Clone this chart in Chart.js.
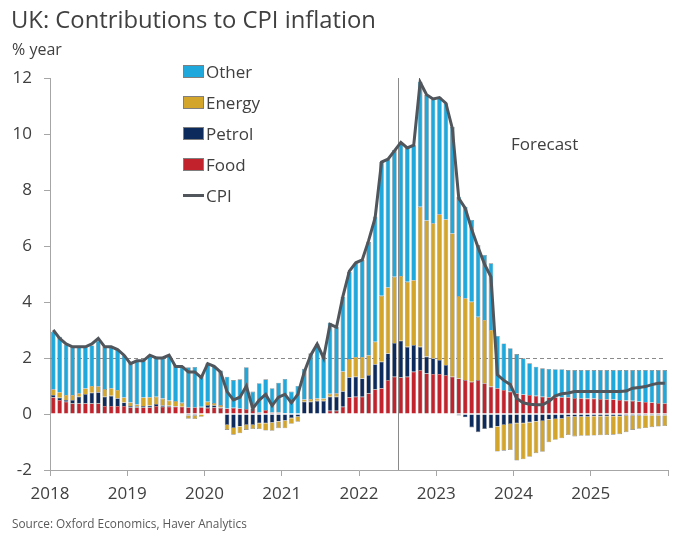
<!DOCTYPE html>
<html lang="en">
<head>
<meta charset="UTF-8">
<title>UK: Contributions to CPI inflation</title>
<script src="https://cdn.jsdelivr.net/npm/chart.js"></script>
<style>
  body { margin: 0; background: #fff; font-family: "Open Sans", sans-serif; color: #404040; }
  #wrap { position: relative; width: 680px; height: 543px; overflow: hidden; }
  #cpiChart { position: absolute; left: 0; top: 0; }
  #title { position: absolute; left: 11px; top: 3px; font-size: 23.8px; white-space: nowrap; }
  #unit { position: absolute; left: 12px; top: 38px; font-size: 16px; }
  #source { position: absolute; left: 12px; top: 515px; font-size: 11.8px; color: #595959; }
  #forecast { position: absolute; left: 511px; top: 132px; font-size: 17px; }
  #legend { position: absolute; left: 183px; top: 56px; font-size: 17px; }
  .item { display: flex; align-items: center; height: 31px; }
  .swatch { width: 21px; height: 13px; margin-right: 2px; box-sizing: border-box; border: 1px solid #7f7f7f; }
  .stroke { width: 21px; height: 3px; margin-right: 2px; }
</style>
</head>
<body>
<div id="wrap">
  <canvas id="cpiChart" width="680" height="543"></canvas>
  <div id="title">UK: Contributions to CPI inflation</div>
  <div id="unit">% year</div>
  <div id="legend"></div>
  <div id="forecast">Forecast</div>
  <div id="source">Source: Oxford Economics, Haver Analytics</div>
</div>
<script>
// monthly, Jan 2018 - Dec 2025, percentage-point contributions
const years = ['2018', '2019', '2020', '2021', '2022', '2023', '2024', '2025'];

const food = [
  0.60, 0.50, 0.44, 0.38, 0.38, 0.38, 0.38, 0.38, 0.29, 0.29, 0.29, 0.29,
  0.24, 0.24, 0.24, 0.24, 0.29, 0.26, 0.26, 0.26, 0.26, 0.24, 0.24, 0.24,
  0.22, 0.24, 0.22, 0.20, 0.22, 0.20, 0.18, 0.20, 0.05, 0.14, 0.05, 0.05,
  0.03, 0.02, 0.02, 0.02, 0.02, 0.02, 0.02, 0.12, 0.12, 0.26, 0.60, 0.62,
  0.62, 0.74, 0.88, 0.92, 1.21, 1.33, 1.31, 1.33, 1.51, 1.57, 1.45, 1.43,
  1.43, 1.39, 1.33, 1.27, 1.21, 1.15, 1.21, 1.10, 0.98, 0.92, 0.86, 0.80,
  0.74, 0.70, 0.68, 0.65, 0.62, 0.60, 0.60, 0.60, 0.60, 0.57, 0.56, 0.55,
  0.55, 0.54, 0.53, 0.52, 0.50, 0.48, 0.47, 0.45, 0.43, 0.41, 0.39, 0.38
];
const petrol = [
  0.08, 0.08, 0.06, 0.12, 0.24, 0.33, 0.38, 0.40, 0.33, 0.36, 0.27, 0.12,
  0.05, 0.04, 0.05, 0.06, 0.07, 0.05, 0.04, 0.02, 0.00, -0.05, -0.06, 0.02,
  0.10, 0.07, 0.02, -0.39, -0.50, -0.45, -0.39, -0.39, -0.33, -0.33, -0.31, -0.27,
  -0.24, -0.15, -0.10, 0.42, 0.42, 0.45, 0.45, 0.50, 0.50, 0.55, 0.71, 0.71,
  0.65, 0.65, 0.90, 0.95, 0.95, 1.21, 1.31, 1.07, 0.95, 0.83, 0.60, 0.56,
  0.50, 0.36, 0.00, -0.05, -0.12, -0.48, -0.65, -0.54, -0.51, -0.45, -0.39, -0.36,
  -0.33, -0.33, -0.30, -0.27, -0.25, -0.20, -0.18, -0.17, -0.10, -0.10, -0.10, -0.10,
  -0.08, -0.08, -0.08, -0.08, -0.08, -0.06, -0.06, -0.06, -0.05, -0.05, -0.05, -0.05
];
const energy = [
  0.20, 0.20, 0.18, 0.18, 0.12, 0.20, 0.24, 0.21, 0.27, 0.27, 0.30, 0.18,
  0.12, 0.06, 0.30, 0.30, 0.26, 0.24, 0.18, 0.18, 0.14, -0.12, -0.12, -0.10,
  0.12, 0.08, 0.08, -0.18, -0.24, -0.24, -0.18, -0.15, -0.21, -0.26, -0.29, -0.24,
  -0.27, -0.20, -0.18, 0.08, 0.10, 0.08, 0.08, 0.10, 0.12, 0.71, 0.65, 0.71,
  0.77, 0.71, 0.80, 2.35, 2.36, 2.36, 2.31, 2.32, 2.32, 5.00, 4.86, 4.82,
  5.20, 5.20, 5.12, 2.94, 2.92, 2.86, 2.26, 2.26, 2.02, -0.89, -0.92, -0.93,
  -1.33, -1.29, -1.23, -1.13, -1.10, -0.81, -0.74, -0.70, -0.65, -0.70, -0.68, -0.68,
  -0.69, -0.68, -0.67, -0.66, -0.64, -0.59, -0.51, -0.47, -0.45, -0.42, -0.40, -0.38
];
const other = [
  2.06, 1.98, 1.80, 1.72, 1.64, 1.49, 1.45, 1.63, 1.53, 1.48, 1.44, 1.51,
  1.44, 1.56, 1.31, 1.50, 1.43, 1.45, 1.59, 1.29, 1.31, 1.43, 1.44, 1.14,
  1.37, 1.31, 1.23, 1.13, 0.99, 1.04, 1.49, 0.60, 1.05, 1.10, 0.87, 1.07,
  1.22, 0.78, 0.98, 1.10, 1.63, 1.95, 1.50, 2.54, 2.38, 2.67, 3.12, 3.34,
  3.46, 4.05, 4.47, 4.78, 4.58, 4.53, 4.76, 4.80, 4.82, 4.47, 4.48, 4.43,
  4.18, 4.15, 3.81, 3.55, 3.27, 2.92, 2.57, 2.32, 2.38, 1.87, 1.66, 1.55,
  1.40, 1.29, 1.13, 1.04, 1.01, 1.01, 1.00, 1.00, 0.97, 1.00, 1.01, 1.02,
  1.02, 1.03, 1.04, 1.05, 1.07, 1.09, 1.10, 1.12, 1.14, 1.16, 1.18, 1.19
];
const cpi = [
  3.0, 2.7, 2.5, 2.4, 2.4, 2.4, 2.5, 2.7, 2.4, 2.4, 2.3, 2.1,
  1.8, 1.9, 1.9, 2.1, 2.0, 2.0, 2.1, 1.7, 1.7, 1.5, 1.5, 1.3,
  1.8, 1.7, 1.5, 0.8, 0.5, 0.6, 1.0, 0.2, 0.5, 0.7, 0.3, 0.6,
  0.7, 0.4, 0.7, 1.5, 2.1, 2.5, 2.0, 3.2, 3.1, 4.2, 5.1, 5.4,
  5.5, 6.2, 7.0, 9.0, 9.1, 9.4, 9.7, 9.5, 9.6, 11.85, 11.4, 11.25,
  11.3, 11.1, 10.2, 7.7, 7.35, 6.6, 5.95, 5.35, 4.9, 1.4, 1.2, 1.05,
  0.55, 0.4, 0.35, 0.33, 0.33, 0.45, 0.65, 0.72, 0.75, 0.8, 0.8, 0.8,
  0.8, 0.8, 0.8, 0.8, 0.8, 0.82, 0.92, 0.95, 0.98, 1.05, 1.1, 1.1
];

const target = 2;          // dashed reference line
const forecastStart = 54;  // months after Jan 2018 (Jul 2022)

const colors = {
  Food: '#c1222b',
  Petrol: '#0c2a5b',
  Energy: '#d3a52b',
  Other: '#1ea8dc',
  CPI: '#50565c'
};

// month index -> point centred in its month on the linear axis
const pts = arr => arr.map((v, i) => ({ x: i + 0.5, y: v }));

const refLines = {
  id: 'refLines',
  beforeDatasetsDraw(chart) {
    const { ctx, chartArea, scales: { x, y } } = chart;
    ctx.save();
    ctx.strokeStyle = '#8a8a8a';
    ctx.lineWidth = 1;
    ctx.setLineDash([4, 3]);
    const yy = Math.round(y.getPixelForValue(target)) + 0.5;
    ctx.beginPath();
    ctx.moveTo(chartArea.left, yy);
    ctx.lineTo(x.getPixelForValue(95.6), yy);
    ctx.stroke();
    ctx.setLineDash([]);
    const xx = Math.round(x.getPixelForValue(forecastStart)) + 0.5;
    ctx.beginPath();
    ctx.moveTo(xx, chartArea.top);
    ctx.lineTo(xx, chartArea.bottom);
    ctx.stroke();
    ctx.restore();
  }
};

Chart.defaults.font.family = '"Open Sans", sans-serif';
Chart.defaults.color = '#404040';

const bar = (label, data) => ({
  label: label,
  data: pts(data),
  backgroundColor: colors[label],
  borderColor: '#808080',
  borderWidth: 0.6,
  stack: 'parts',
  order: 1
});

const axisGrid = { drawOnChartArea: false, offset: false, tickLength: 6, color: '#a6a6a6' };

new Chart(document.getElementById('cpiChart'), {
  type: 'bar',
  data: {
    datasets: [
      bar('Food', food),
      bar('Petrol', petrol),
      bar('Energy', energy),
      bar('Other', other),
      {
        type: 'line',
        label: 'CPI',
        data: pts(cpi),
        borderColor: colors.CPI,
        borderWidth: 3,
        pointRadius: 0,
        tension: 0,
        stack: 'cpi',
        order: 0
      }
    ]
  },
  options: {
    responsive: false,
    animation: false,
    layout: { padding: { top: 78, right: 12, left: 0, bottom: 0 } },
    plugins: { legend: { display: false }, tooltip: { enabled: false } },
    datasets: { bar: { barPercentage: 0.72, categoryPercentage: 1 } },
    scales: {
      x: {
        type: 'linear',
        offset: false,
        stacked: true,
        min: 0,
        max: 96,
        afterFit: s => { s.height = 73; },
        ticks: {
          stepSize: 12,
          autoSkip: false,
          maxRotation: 0,
          padding: 8,
          font: { size: 17 },
          callback: v => (v < 96 ? years[v / 12] : '')
        },
        grid: axisGrid,
        border: { color: '#a6a6a6' }
      },
      y: {
        stacked: true,
        min: -2,
        max: 12,
        afterFit: s => { s.width = 50; },
        ticks: { stepSize: 2, padding: 12, font: { size: 17 } },
        grid: axisGrid,
        border: { color: '#a6a6a6' }
      }
    }
  },
  plugins: [refLines]
});

// legend, top to bottom as in the original
const legend = document.getElementById('legend');
['Other', 'Energy', 'Petrol', 'Food', 'CPI'].forEach(name => {
  const row = document.createElement('div');
  row.className = 'item';
  const mark = document.createElement('span');
  mark.className = name === 'CPI' ? 'stroke' : 'swatch';
  mark.style.background = colors[name];
  row.appendChild(mark);
  row.appendChild(document.createTextNode(name));
  legend.appendChild(row);
});
</script>
</body>
</html>
